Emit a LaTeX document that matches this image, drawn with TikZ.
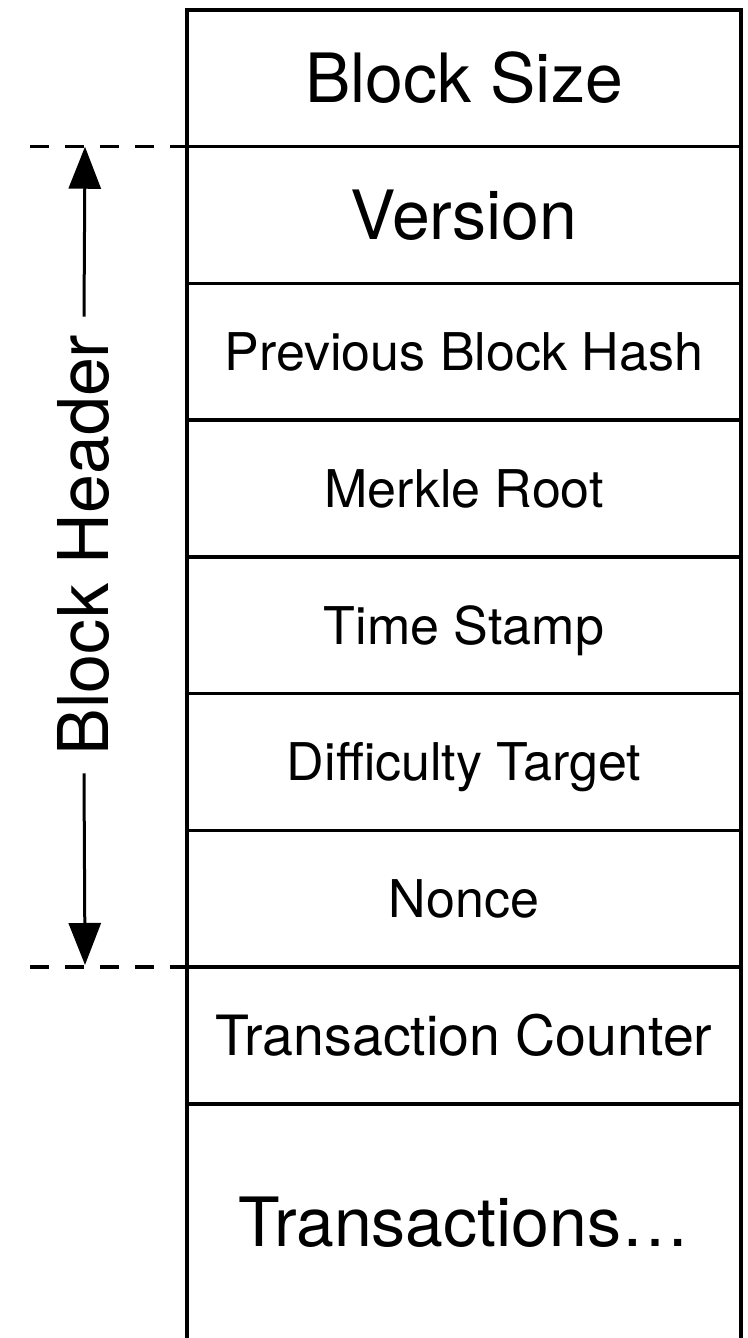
\documentclass[tikz,border=0pt]{standalone}
\usepackage{fontspec}
\setmainfont{TeX Gyre Heros}
\usetikzlibrary{arrows.meta}
\tikzset{
  rowbox/.style={draw=black, line width=3.5pt, minimum width=554pt, inner sep=0pt, outer sep=0pt, text depth=0pt},
  bigtxt/.style={font=\fontsize{68}{80}\selectfont, text height=48.8pt},
  midtxt/.style={font=\fontsize{55.5}{66}\selectfont, text height=39.8pt},
  smalltxt/.style={font=\fontsize{52}{62}\selectfont, text height=37.3pt},
  dashline/.style={line width=3.5pt, dash pattern=on 19pt off 16pt},
  arr/.style={line width=3pt, -{Triangle[length=42pt, width=32pt]}},
}
\begin{document}
\begin{tikzpicture}[x=1pt, y=1pt]
\useasboundingbox (0,0) rectangle (747,1338);
% rows (tikz y = 1338 - pixel y)
\node[rowbox, bigtxt, minimum height=136.75pt] (bs) at (464,1259.625) {Block Size};
\node[rowbox, bigtxt, minimum height=136.75pt] (ver) at (464,1122.875) {Version};
\node[rowbox, smalltxt, minimum height=136.75pt] (prev) at (464,986.125) {Previous Block Hash};
\node[rowbox, smalltxt, minimum height=136.75pt] (mr) at (464,849.375) {Merkle Root};
\node[rowbox, smalltxt, minimum height=136.75pt] (ts) at (464,712.625) {Time Stamp};
\node[rowbox, smalltxt, minimum height=136.75pt] (dt) at (464,575.875) {Difficulty Target};
\node[rowbox, smalltxt, minimum height=136.75pt] (nc) at (464,439.125) {Nonce};
\node[rowbox, midtxt, minimum height=136.75pt] (tc) at (464,302.375) {Transaction Counter};
\node[rowbox, bigtxt, minimum height=236pt] (tx) at (464,116) {Transactions…};
% dashed header limits
\coordinate (dl1) at (30,1191.25);
\coordinate (dl2) at (30,370.75);
\draw[dashline] (dl1) -- (ver.north west);
\draw[dashline] (dl2) -- (nc.south west);
% block header label with arrows
\node[rotate=90, font=\fontsize{70}{84}\selectfont, inner xsep=18pt, inner ysep=0pt] (bh) at (84,793) {Block Header};
\coordinate (tipA) at (85,1191.25);
\coordinate (tipB) at (85,373);
\draw[arr] (bh.east) -- (tipA);
\draw[arr] (bh.west) -- (tipB);
\end{tikzpicture}
\end{document}
